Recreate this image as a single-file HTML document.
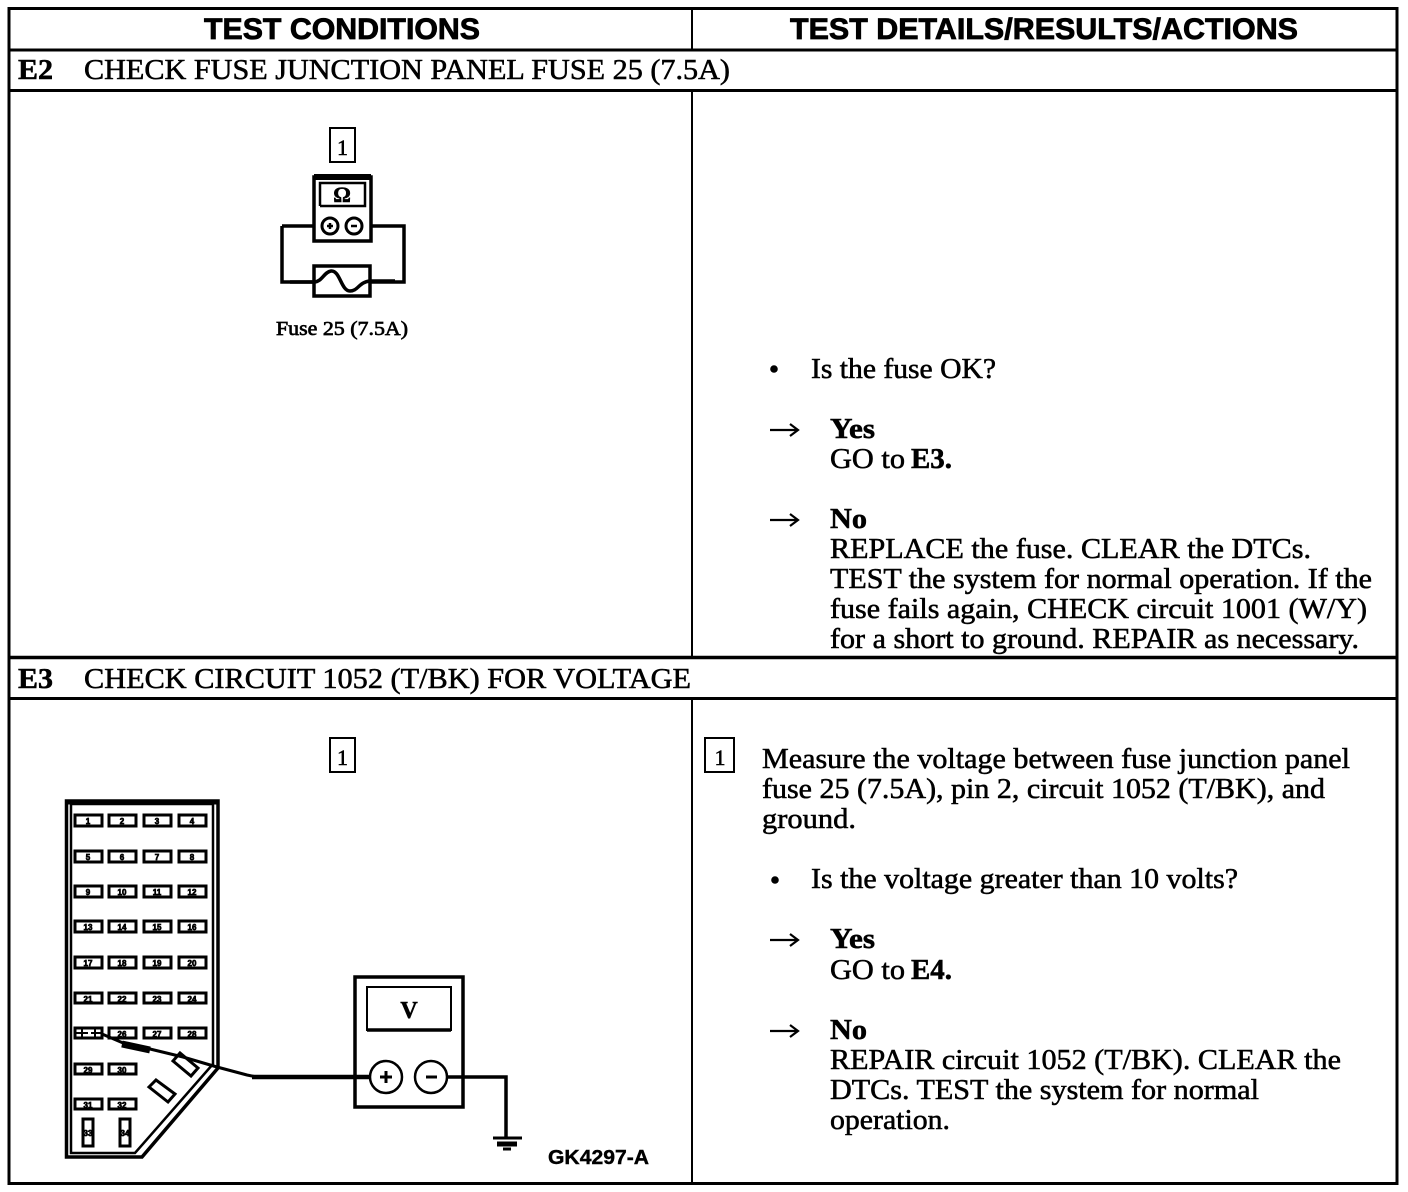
<!DOCTYPE html>
<html><head><meta charset="utf-8"><style>
html,body{margin:0;padding:0;background:#fff}
svg{display:block}
text{font-family:"Liberation Serif",serif;font-size:29px;fill:#000;stroke:#000;stroke-width:.55px}
.h{font-family:"Liberation Sans",sans-serif;font-weight:bold;font-size:30px;stroke-width:.8px}
.b{font-weight:bold}
.s{font-family:"Liberation Sans",sans-serif;font-size:8px;font-weight:bold;text-anchor:middle;stroke-width:.7px}
</style></head><body>
<svg width="1408" height="1192" viewBox="0 0 1408 1192" xmlns="http://www.w3.org/2000/svg">
<rect width="1408" height="1192" fill="#fff"/>
<g fill="none" stroke="#000">
<rect x="9" y="8.500" width="1388" height="1175" stroke-width="3"/>
<path d="M9 50H1397M9 90.500H1397M9 698.500H1397" stroke-width="3"/>
<path d="M9 657.500H1397" stroke-width="3.500"/>
<path d="M692 8V50M692 90V657M692 698V1184" stroke-width="2"/>
</g>

<text class="h" x="204" y="39" textLength="276" lengthAdjust="spacingAndGlyphs">TEST CONDITIONS</text>
<text class="h" x="790" y="39" textLength="508" lengthAdjust="spacingAndGlyphs">TEST DETAILS/RESULTS/ACTIONS</text>

<text class="b" x="18" y="79" textLength="35" lengthAdjust="spacingAndGlyphs">E2</text>
<text x="84" y="79" textLength="646" lengthAdjust="spacingAndGlyphs">CHECK FUSE JUNCTION PANEL FUSE 25 (7.5A)</text>
<text class="b" x="18" y="688" textLength="35" lengthAdjust="spacingAndGlyphs">E3</text>
<text x="84" y="688" textLength="607" lengthAdjust="spacingAndGlyphs">CHECK CIRCUIT 1052 (T/BK) FOR VOLTAGE</text>

<!-- E2 right -->
<circle cx="774" cy="369" r="3.800" fill="#000"/>
<text x="811" y="378" textLength="185" lengthAdjust="spacingAndGlyphs">Is the fuse OK?</text>
<path d="M770 430H797M790 424L798 430L790 436" fill="none" stroke="#000" stroke-width="2.200"/>
<text class="b" x="830" y="438" textLength="45" lengthAdjust="spacingAndGlyphs">Yes</text>
<text x="830" y="468" textLength="75" lengthAdjust="spacingAndGlyphs">GO to</text>
<text class="b" x="911" y="468" textLength="41" lengthAdjust="spacingAndGlyphs">E3.</text>
<path d="M770 520H797M790 514L798 520L790 526" fill="none" stroke="#000" stroke-width="2.200"/>
<text class="b" x="830" y="528" textLength="37" lengthAdjust="spacingAndGlyphs">No</text>
<text x="830" y="558" textLength="481" lengthAdjust="spacingAndGlyphs">REPLACE the fuse. CLEAR the DTCs.</text>
<text x="830" y="588" textLength="542" lengthAdjust="spacingAndGlyphs">TEST the system for normal operation. If the</text>
<text x="830" y="618" textLength="537" lengthAdjust="spacingAndGlyphs">fuse fails again, CHECK circuit 1001 (W/Y)</text>
<text x="830" y="648" textLength="529" lengthAdjust="spacingAndGlyphs">for a short to ground. REPAIR as necessary.</text>

<!-- E3 right -->
<rect x="705" y="738" width="29" height="34" fill="none" stroke="#000" stroke-width="2"/>
<text x="720" y="765" text-anchor="middle" style="font-size:22px">1</text>
<text x="762" y="768" textLength="588" lengthAdjust="spacingAndGlyphs">Measure the voltage between fuse junction panel</text>
<text x="762" y="798" textLength="563" lengthAdjust="spacingAndGlyphs">fuse 25 (7.5A), pin 2, circuit 1052 (T/BK), and</text>
<text x="762" y="828" textLength="94" lengthAdjust="spacingAndGlyphs">ground.</text>
<circle cx="775" cy="880" r="3.800" fill="#000"/>
<text x="811" y="888" textLength="427" lengthAdjust="spacingAndGlyphs">Is the voltage greater than 10 volts?</text>
<path d="M770 940H797M790 934L798 940L790 946" fill="none" stroke="#000" stroke-width="2.200"/>
<text class="b" x="830" y="948" textLength="45" lengthAdjust="spacingAndGlyphs">Yes</text>
<text x="830" y="979" textLength="75" lengthAdjust="spacingAndGlyphs">GO to</text>
<text class="b" x="911" y="979" textLength="41" lengthAdjust="spacingAndGlyphs">E4.</text>
<path d="M770 1031H797M790 1025L798 1031L790 1037" fill="none" stroke="#000" stroke-width="2.200"/>
<text class="b" x="830" y="1039" textLength="37" lengthAdjust="spacingAndGlyphs">No</text>
<text x="830" y="1069" textLength="511" lengthAdjust="spacingAndGlyphs">REPAIR circuit 1052 (T/BK). CLEAR the</text>
<text x="830" y="1099" textLength="429" lengthAdjust="spacingAndGlyphs">DTCs. TEST the system for normal</text>
<text x="830" y="1129" textLength="120" lengthAdjust="spacingAndGlyphs">operation.</text>

<!-- E2 left diagram -->
<g fill="none" stroke="#000">
<rect x="330" y="128" width="25" height="34" stroke-width="2"/>
<path d="M282 226H315M370 226H404V282H371M314 282H282V226" stroke-width="3.500"/>
<rect x="314" y="177" width="57" height="64" stroke-width="3.500"/>
<path d="M314 177H371" stroke-width="6"/>
<path d="M320 206V183H365V206H320" stroke-width="2.500"/>
<circle cx="330" cy="226" r="8" stroke-width="3" fill="#fff"/>
<circle cx="354" cy="226" r="8" stroke-width="3" fill="#fff"/>
<path d="M327 226H333M330 223V229M351 226H357" stroke-width="2.500"/>
<rect x="314" y="266" width="56" height="30" stroke-width="3.500"/>
<path d="M290 282H314C322 282 324 272 331 271C340 270 341 291 350 291C358 291 359 282 370 281H395" stroke-width="3.500"/>
</g>
<text x="342.500" y="155" text-anchor="middle" style="font-size:22px">1</text>
<text x="342" y="202" text-anchor="middle" class="b" style="font-size:22px">Ω</text>
<text x="276" y="335" textLength="132" lengthAdjust="spacingAndGlyphs" style="font-size:20px;stroke-width:.7px">Fuse 25 (7.5A)</text>

<!-- E3 label -->
<rect x="330" y="738" width="25" height="34" fill="none" stroke="#000" stroke-width="2"/>
<text x="342.500" y="765" text-anchor="middle" style="font-size:22px">1</text>

<!-- Fuse panel -->
<g fill="none" stroke="#000">
<path d="M66.500 801H218V1068L142 1157H66.500Z" stroke-width="3.500"/>
<path d="M71 804H213V1064L135 1153H71Z" stroke-width="2.500"/>
<path d="M66 802H218" stroke-width="5"/>
<g stroke-width="3">
<rect x="75" y="815" width="27" height="11"/><rect x="109" y="815" width="27" height="11"/><rect x="144" y="815" width="27" height="11"/><rect x="179" y="815" width="27" height="11"/>
<rect x="75" y="851" width="27" height="11"/><rect x="109" y="851" width="27" height="11"/><rect x="144" y="851" width="27" height="11"/><rect x="179" y="851" width="27" height="11"/>
<rect x="75" y="886" width="27" height="11"/><rect x="109" y="886" width="27" height="11"/><rect x="144" y="886" width="27" height="11"/><rect x="179" y="886" width="27" height="11"/>
<rect x="75" y="921" width="27" height="11"/><rect x="109" y="921" width="27" height="11"/><rect x="144" y="921" width="27" height="11"/><rect x="179" y="921" width="27" height="11"/>
<rect x="75" y="957" width="27" height="11"/><rect x="109" y="957" width="27" height="11"/><rect x="144" y="957" width="27" height="11"/><rect x="179" y="957" width="27" height="11"/>
<rect x="75" y="993" width="27" height="10"/><rect x="109" y="993" width="27" height="10"/><rect x="144" y="993" width="27" height="10"/><rect x="179" y="993" width="27" height="10"/>
<rect x="75" y="1028" width="27" height="10"/><rect x="109" y="1028" width="27" height="10"/><rect x="144" y="1028" width="27" height="10"/><rect x="179" y="1028" width="27" height="10"/>
<rect x="75" y="1064" width="27" height="10"/><rect x="109" y="1064" width="27" height="10"/>
<rect x="75" y="1099" width="27" height="10"/><rect x="109" y="1099" width="27" height="10"/>
<rect x="83" y="1119" width="10" height="27"/><rect x="120" y="1119" width="10" height="27"/>
<path d="M173 1061L180 1053L198 1068L191 1076Z"/>
<path d="M149 1087L156 1080L175 1094L168 1102Z"/>
</g>
<path d="M82 1029V1037M95 1029V1037M76 1033H88M91 1033H101" stroke-width="2"/>
<path d="M102 1034L123 1043L150 1049L183 1057L217 1067L247 1075L257 1077" stroke-width="3"/>
<path d="M252 1077H372" stroke-width="4.500"/>
<path d="M122 1044L150 1050" stroke-width="7"/>
</g>
<g>
<text class="s" x="88" y="824">1</text><text class="s" x="122" y="824">2</text><text class="s" x="157" y="824">3</text><text class="s" x="192" y="824">4</text>
<text class="s" x="88" y="860">5</text><text class="s" x="122" y="860">6</text><text class="s" x="157" y="860">7</text><text class="s" x="192" y="860">8</text>
<text class="s" x="88" y="895">9</text><text class="s" x="122" y="895">10</text><text class="s" x="157" y="895">11</text><text class="s" x="192" y="895">12</text>
<text class="s" x="88" y="930">13</text><text class="s" x="122" y="930">14</text><text class="s" x="157" y="930">15</text><text class="s" x="192" y="930">16</text>
<text class="s" x="88" y="966">17</text><text class="s" x="122" y="966">18</text><text class="s" x="157" y="966">19</text><text class="s" x="192" y="966">20</text>
<text class="s" x="88" y="1002">21</text><text class="s" x="122" y="1002">22</text><text class="s" x="157" y="1002">23</text><text class="s" x="192" y="1002">24</text>
<text class="s" x="122" y="1037">26</text><text class="s" x="157" y="1037">27</text><text class="s" x="192" y="1037">28</text>
<text class="s" x="88" y="1073">29</text><text class="s" x="122" y="1073">30</text>
<text class="s" x="88" y="1108">31</text><text class="s" x="122" y="1108">32</text>
<text class="s" x="88" y="1136">33</text><text class="s" x="125" y="1136">34</text>
</g>

<!-- Voltmeter -->
<g fill="none" stroke="#000">
<rect x="355" y="977" width="108" height="130" stroke-width="3.500"/>
<rect x="367" y="987" width="84" height="43" stroke-width="2"/>
<path d="M367 1030H451" stroke-width="3.500"/>
<circle cx="386" cy="1077" r="16" stroke-width="2.500" fill="#fff"/>
<circle cx="431" cy="1077" r="16" stroke-width="2.500" fill="#fff"/>
<path d="M380 1077H392M386 1071V1083M426 1077H437" stroke-width="3"/>
<path d="M448 1077H506V1137" stroke-width="3.500"/>
<path d="M493 1138H522" stroke-width="3"/>
<path d="M497 1144H517" stroke-width="5"/>
<path d="M503 1149H511" stroke-width="3"/>
</g>
<text x="409" y="1018" text-anchor="middle" class="b" style="font-size:24px;font-family:'Liberation Serif',serif">V</text>
<text x="548" y="1164" textLength="101" lengthAdjust="spacingAndGlyphs" style="font-family:'Liberation Sans',sans-serif;font-weight:bold;font-size:20px;stroke-width:.4px">GK4297-A</text>
</svg>
</body></html>
